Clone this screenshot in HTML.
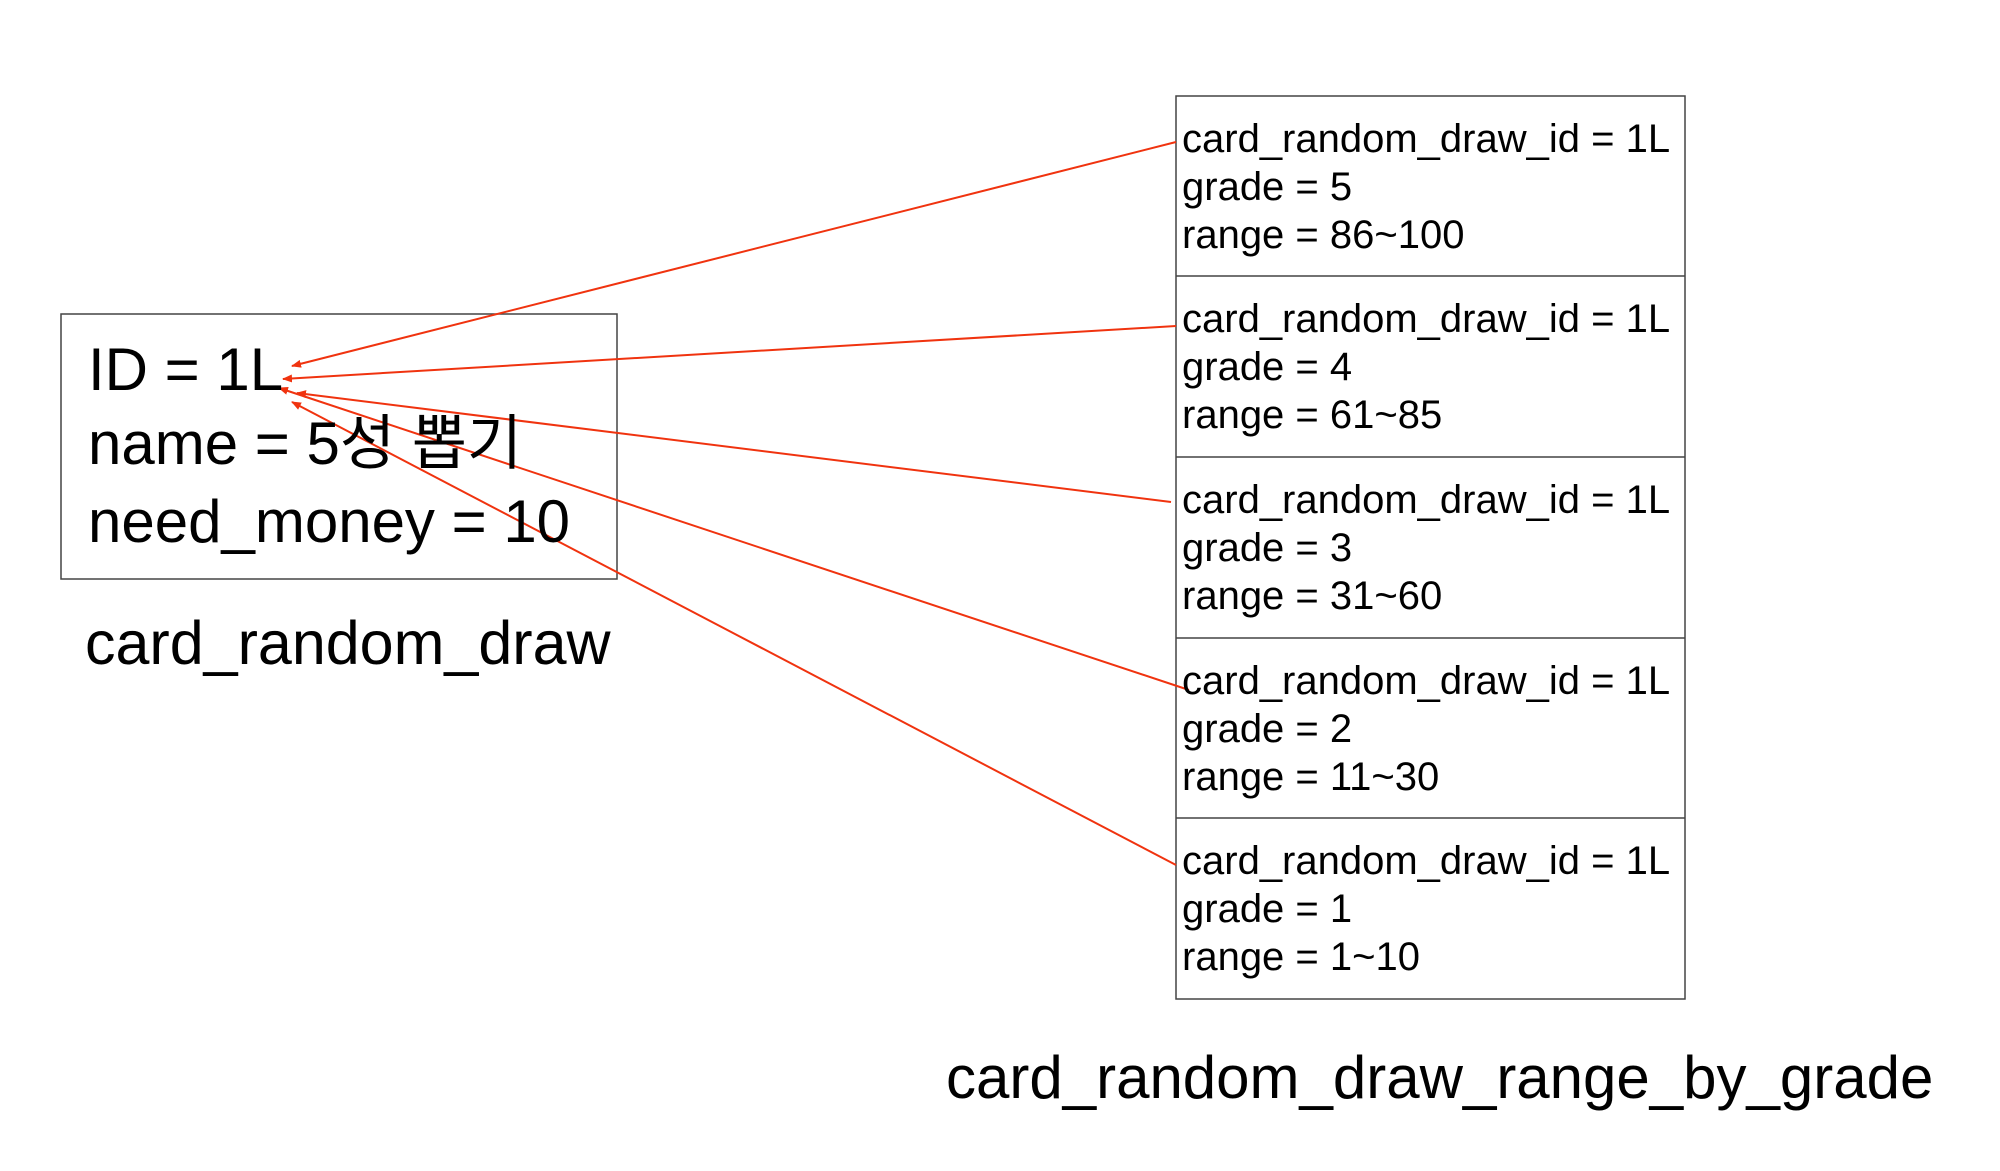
<!DOCTYPE html>
<html><head><meta charset="utf-8"><style>
html,body{margin:0;padding:0;background:#fff;}
body{width:2000px;height:1171px;position:relative;overflow:hidden;font-family:"Liberation Sans","Noto Sans CJK KR",sans-serif;color:#000;}
.t{position:absolute;white-space:nowrap;line-height:1;}
.r{position:absolute;white-space:nowrap;font-size:40px;line-height:48px;left:1182px;}
</style></head><body>
<svg width="2000" height="1171" style="position:absolute;left:0;top:0">
<defs><marker id="a" markerWidth="10" markerHeight="8" refX="9" refY="4" orient="auto" markerUnits="userSpaceOnUse"><path d="M0,0 L10,4 L0,8 z" fill="#f0330f"/></marker></defs>
<rect x="61" y="314" width="556" height="265" fill="none" stroke="#444" stroke-width="1.5"/>
<rect x="1176" y="96" width="509" height="903" fill="none" stroke="#444" stroke-width="1.5"/>
<line x1="1176" y1="276" x2="1685" y2="276" stroke="#444" stroke-width="1.5"/>
<line x1="1176" y1="457" x2="1685" y2="457" stroke="#444" stroke-width="1.5"/>
<line x1="1176" y1="638" x2="1685" y2="638" stroke="#444" stroke-width="1.5"/>
<line x1="1176" y1="818" x2="1685" y2="818" stroke="#444" stroke-width="1.5"/>
<g stroke="#f0330f" stroke-width="2" fill="none" marker-end="url(#a)">
<line x1="1176" y1="142" x2="292" y2="366"/>
<line x1="1176" y1="326" x2="283" y2="379"/>
<line x1="1171" y1="502" x2="297" y2="393"/>
<line x1="1189" y1="690" x2="279" y2="388"/>
<line x1="1176" y1="865" x2="292" y2="402"/>
</g>
</svg>
<div class="t" style="left:88px;top:340px;font-size:60px">ID = 1L</div>
<div class="t" style="left:88px;top:414px;font-size:60px">name = 5성 뽑기</div>
<div class="t" style="left:88px;top:492px;font-size:60px">need_money = 10</div>
<div class="t" style="left:85px;top:613px;font-size:61px">card_random_draw</div>

<div class="r" style="top:115px">card_random_draw_id = 1L<br>grade = 5<br>range = 86~100</div>
<div class="r" style="top:295px">card_random_draw_id = 1L<br>grade = 4<br>range = 61~85</div>
<div class="r" style="top:476px">card_random_draw_id = 1L<br>grade = 3<br>range = 31~60</div>
<div class="r" style="top:657px">card_random_draw_id = 1L<br>grade = 2<br>range = 11~30</div>
<div class="r" style="top:837px">card_random_draw_id = 1L<br>grade = 1<br>range = 1~10</div>

<div class="t" style="left:946px;top:1048px;font-size:60px">card_random_draw_range_by_grade</div>
</body></html>
